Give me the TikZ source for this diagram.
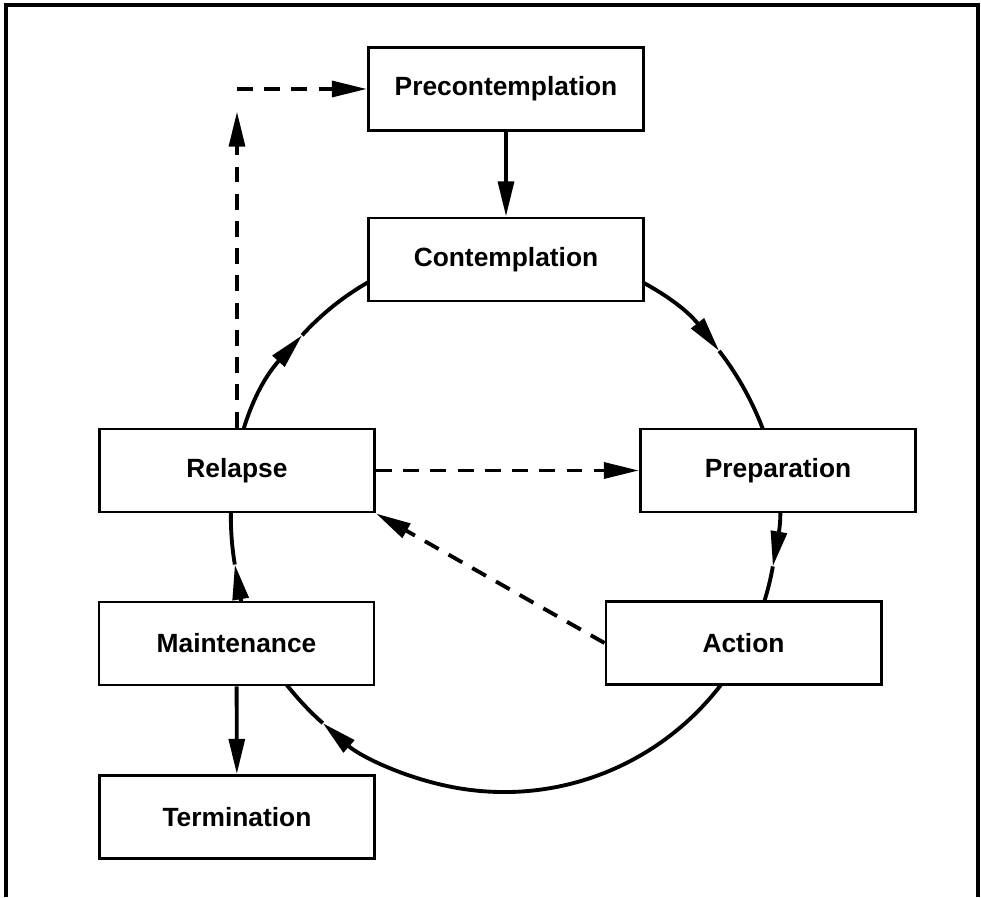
\documentclass[tikz,border=0pt]{standalone}
\usepackage{fontspec}
\setmainfont{Liberation Sans}
\usetikzlibrary{arrows.meta}

\tikzset{
  stage/.style={draw, line width=1.7pt, fill=white, minimum width=5.5cm,
    minimum height=1.66cm, inner sep=0pt, font=\fontsize{15}{18}\selectfont\bfseries},
  flow/.style={line width=2.2pt, -{Triangle[length=20pt,width=9pt]}},
  lapse/.style={flow, dash pattern=on 9pt off 6.5pt},
}

\begin{document}
\begin{tikzpicture}

    \useasboundingbox (0,0) rectangle (19.62,17.94);

    % Outer frame, open at the bottom
    \draw[line width=1.8pt] (0.12,0) -- (0.12,17.84) -- (19.56,17.84) -- (19.56,0);

    % Centre and radius of the cycle
    \def\rC{5.46}
    \coordinate (ctr) at (10.08,7.56);

    % Cycle arcs, clockwise, each one ending in an arrow
    \foreach \a/\b in {189.6/137.7, 137.7/38, 38/-10, -10/-131.6, 228.4/189.6}
        \draw[flow] ([shift={(\a:\rC)}]ctr) arc [start angle=\a, end angle=\b, radius=\rC];

    % Stages
    \node[stage] (pre)  at (10.12,16.16) {Precontemplation};
    \node[stage] (con)  at (10.12,12.75) {Contemplation};
    \node[stage] (prep) at (15.56,8.53)  {Preparation};
    \node[stage] (act)  at (14.87,5.08)  {Action};
    \node[stage] (rel)  at (4.74,8.53)   {Relapse};
    \node[stage] (mnt)  at (4.73,5.07)   {Maintenance};
    \node[stage] (term) at (4.74,1.60)   {Termination};

    % Straight links
    \draw[flow] (pre) -- (con);
    \draw[flow] (mnt) -- (term);

    % Relapse links (dashed)
    \draw[lapse] (rel) -- (prep);
    \draw[lapse] (act.west) -- (rel.south east);
    \coordinate (turn) at (rel.north |- pre.west);
    \draw[lapse] (rel.north) -- ([yshift=-0.45cm]turn);
    \draw[lapse] (turn) -- (pre.west);

\end{tikzpicture}
\end{document}
